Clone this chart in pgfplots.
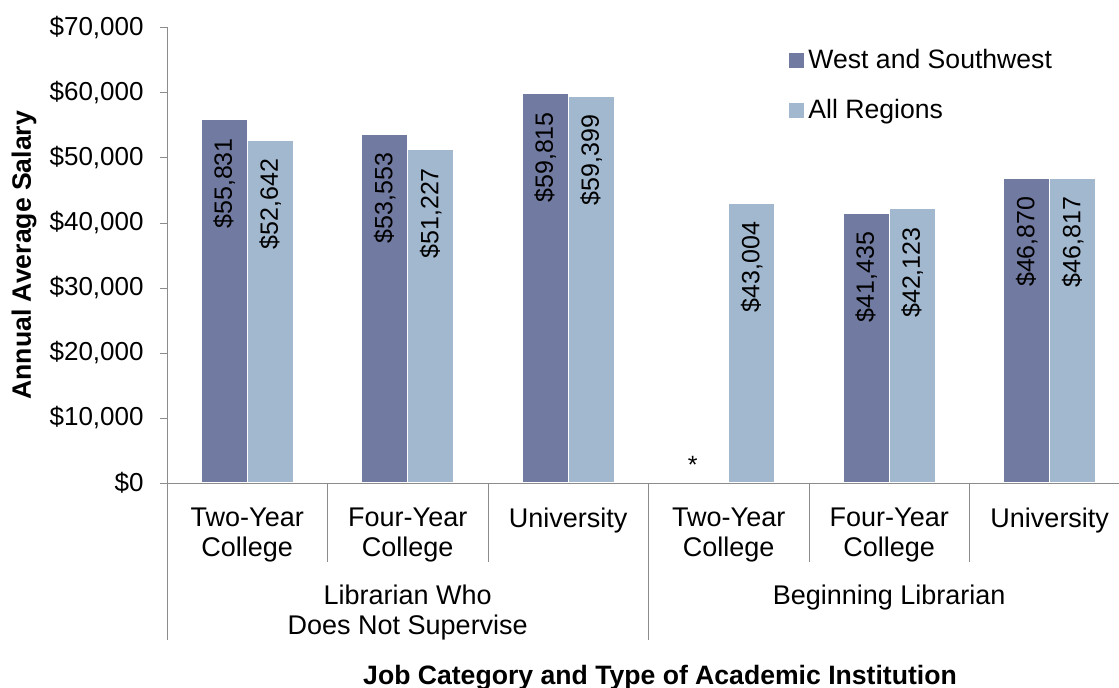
\documentclass[border=0pt]{standalone}
\usepackage{pgfplots}
\pgfplotsset{compat=1.18}
\usepackage{fontspec}
\setmainfont{Liberation Sans}

\definecolor{westbar}{HTML}{717AA0}
\definecolor{allbar}{HTML}{A2B8CF}
\definecolor{axisgray}{HTML}{8C8C8C}

% 1 px of the reference = 0.5pt
\newcommand{\lblfont}{\fontsize{12.5}{15}\selectfont}
\newcommand{\tickfont}{\fontsize{13}{15}\selectfont}
\newcommand{\catfont}{\fontsize{13.5}{15}\selectfont}
\newcommand{\titlefont}{\fontsize{13.3}{15}\selectfont}

\begin{document}
\begin{tikzpicture}
    \path[use as bounding box] (-83.5pt,-102.5pt) rectangle (476pt,241.5pt);
    \begin{axis}[
            scale only axis,
            width=481.5pt,
            height=227.75pt,
            ybar=0pt,
            bar width=23pt,
            xmin=-0.5, xmax=5.5,
            ymin=0, ymax=70000,
            axis lines=left,
            axis line style={draw=axisgray, -},
            xtick={0,...,5},
            xticklabels={Two-Year\\College, Four-Year\\College, University,
                Two-Year\\College, Four-Year\\College, University},
            major x tick style={draw=none},
            xticklabel style={align=center, anchor=north, inner sep=0pt,
                yshift=-8.8pt, font=\catfont},
            ytick={0,10000,...,70000},
            tick align=outside,
            major tick length=3.5pt,
            y tick style={draw=axisgray},
            scaled y ticks=false,
            yticklabel={\$\pgfmathprintnumber{\tick}},
            yticklabel style={font=\tickfont, anchor=east, inner sep=0pt, xshift=-8pt},
            /pgf/number format/.cd, fixed, precision=0, 1000 sep={,}, assume math mode=true,
            /pgfplots/.cd,
            nodes near coords={\$\pgfmathprintnumber{\pgfplotspointmeta}},
            nodes near coords style={font=\lblfont, rotate=90, anchor=east,
                inner ysep=0pt, inner xsep=9pt},
            xlabel={\textbf{Job Category and Type of Academic Institution}},
            xlabel style={at={(axis description cs:0.512,-0.428)}, anchor=center, font=\titlefont},
            ylabel={\textbf{Annual Average Salary}},
            ylabel style={at={(axis description cs:-0.1485,0.5)}, anchor=center, rotate=0, font=\titlefont},
            legend style={draw=none, fill=none, at={(0.646,0.962)}, anchor=north west,
                font=\titlefont, inner sep=0pt, row sep=10pt, cells={anchor=west}},
            clip=false,
        ]

        \addplot[fill=westbar, draw=white, line width=0.5pt,
            legend image code/.code={\fill[westbar] (0pt,-3.5pt) rectangle (7pt,3.5pt);}]
            coordinates {
                (0, 55831)
                (1, 53553)
                (2, 59815)
                (4, 41435)
                (5, 46870)
            };

        \addplot[fill=allbar, draw=white, line width=0.5pt,
            legend image code/.code={\fill[allbar] (0pt,-3.5pt) rectangle (7pt,3.5pt);}]
            coordinates {
                (0, 52642)
                (1, 51227)
                (2, 59399)
                (3, 43004)
                (4, 42123)
                (5, 46817)
            };

        \legend{West and Southwest, All Regions}

        % no West and Southwest value for beginning librarians at two-year colleges
        \node[font=\lblfont, anchor=base, inner sep=0pt] at (axis cs:2.776,1400) {*};

        % category separators below the axis
        \pgfplotsinvokeforeach{0.5,1.5,3.5,4.5}{
            \draw[axisgray] (axis cs:#1,0) -- ([yshift=-39.3pt]axis cs:#1,0);
        }
        \pgfplotsinvokeforeach{-0.5,2.5,5.5}{
            \draw[axisgray] (axis cs:#1,0) -- ([yshift=-78.5pt]axis cs:#1,0);
        }

        % job category labels
        \node[font=\catfont, align=center, anchor=north, inner sep=0pt]
            at ([yshift=-50.8pt]axis cs:1,0) {Librarian Who\\Does Not Supervise};
        \node[font=\catfont, align=center, anchor=north, inner sep=0pt]
            at ([yshift=-50.8pt]axis cs:4,0) {Beginning Librarian};
    \end{axis}
\end{tikzpicture}
\end{document}
